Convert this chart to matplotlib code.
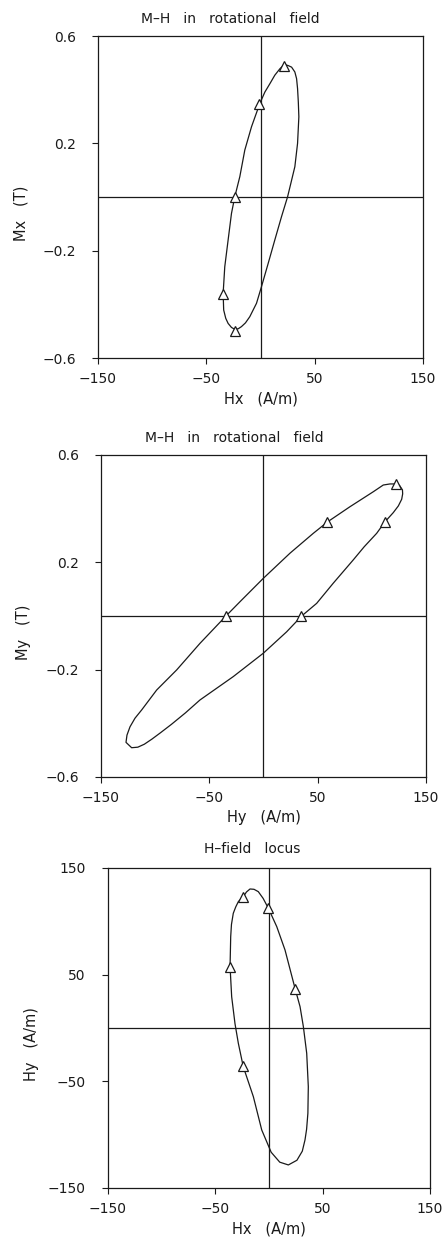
import numpy as np
import matplotlib
matplotlib.use("Agg")
import matplotlib.pyplot as plt

plt.rcParams["font.family"] = ["DejaVu Sans"]

# Mx-Hx loop (A/m, T), traced round the loop
hx_loop = [22.0, 25.5, 28.7, 31.7, 33.3, 34.2, 34.9, 35.4, 34.2, 31.7, 28.0, 25.0,
           19.4, 13.2, 7.1, 0.9, -3.7, -9.9, -13.9, -17.6, -20.6, -23.8, -26.8, -29.9,
           -32.1, -34.0, -34.5, -33.0, -29.9, -26.8, -23.8, -19.1, -14.5, -8.3, -0.6,
           4.0, 8.6, 13.2, 17.9, 22.0]
mx_loop = [0.494, 0.490, 0.484, 0.466, 0.441, 0.404, 0.354, 0.299, 0.200, 0.113,
           0.051, 0.001, -0.073, -0.160, -0.247, -0.334, -0.396, -0.446, -0.469,
           -0.483, -0.491, -0.493, -0.486, -0.471, -0.452, -0.421, -0.359, -0.260,
           -0.160, -0.061, 0.0, 0.076, 0.175, 0.262, 0.349, 0.391, 0.422, 0.454,
           0.478, 0.494]
hx_pts = [22, -1, -24, -35, -24]
mx_pts = [0.49, 0.345, 0.0, -0.36, -0.50]

# My-Hy loop
hy_loop = [121.4, 125.5, 128.3, 128.5, 127.6, 124.5, 119.8, 112.2, 104.5, 93.0, 82.9,
           64.4, 49.1, 35.3, 21.4, -0.2, -27.9, -58.6, -72.0, -85.0, -95.0, -103.0,
           -110.0, -116.0, -121.7, -126.9, -126.0, -123.2, -118.6, -112.4, -98.6, -80.1,
           -58.6, -34.6, -21.7, -0.2, 24.5, 46.0, 59.3, 79.8, 101.4, 110.6, 116.8, 121.4]
my_loop = [0.492, 0.487, 0.470, 0.455, 0.435, 0.410, 0.385, 0.351, 0.308, 0.258,
           0.209, 0.122, 0.047, 0.0, -0.059, -0.139, -0.226, -0.313, -0.361, -0.404,
           -0.435, -0.459, -0.478, -0.489, -0.491, -0.471, -0.444, -0.413, -0.381,
           -0.350, -0.276, -0.201, -0.102, 0.0, 0.053, 0.140, 0.234, 0.308, 0.351,
           0.407, 0.463, 0.488, 0.492, 0.492]
hy_pts = [122, 112, 59, 35, -35]
my_pts = [0.49, 0.35, 0.35, 0.0, 0.0]

# H-field locus (Hx, Hy)
locus_hx = [-24.0, -21.0, -17.7, -14.0, -10.0, -5.5, -0.6, 7.2, 14.9, 24.2, 28.9, 32.0,
            35.1, 36.6, 36.2, 35.0, 33.5, 31.0, 26.0, 18.0, 10.0, 2.0, -6.8, -14.6,
            -24.0, -28.6, -31.7, -34.8, -36.3, -35.7, -35.0, -33.3, -31.0, -28.6,
            -24.0]
locus_hy = [123.1, 127.5, 130.3, 130.0, 127.8, 121.5, 112.2, 95.0, 73.1, 37.2, 20.0,
            1.2, -23.7, -55.0, -80.0, -95.0, -105.0, -115.5, -124.0, -128.4, -125.8,
            -116.5, -95.6, -64.4, -36.3, -14.3, 4.0, 29.3, 57.5, 85.6, 97.0, 107.5,
            113.5, 118.4, 123.1]
locus_hx_pts = [-24, -1, 24, -24, -36]
locus_hy_pts = [123, 112, 37, -36, 57]

ink = "#1a1a1a"
mh_title = "M\u2013H   in   rotational   field"

panels = [
    dict(rect=[0.2188, 0.7108, 0.7254, 0.2601], x=hx_loop, y=mx_loop, px=hx_pts, py=mx_pts,
         ylim=(-0.6, 0.6), yticks=[-0.6, -0.2, 0.2, 0.6], ylabel="Mx   (T)",
         xlabel="Hx   (A/m)", title=mh_title, tx=0.406, ty=1.053),
    dict(rect=[0.2254, 0.3724, 0.7254, 0.2601], x=hy_loop, y=my_loop, px=hy_pts, py=my_pts,
         ylim=(-0.6, 0.6), yticks=[-0.6, -0.2, 0.2, 0.6], ylabel="My   (T)",
         xlabel="Hy   (A/m)", title=mh_title, tx=0.409, ty=1.053),
    dict(rect=[0.2411, 0.0404, 0.7188, 0.2585], x=locus_hx, y=locus_hy,
         px=locus_hx_pts, py=locus_hy_pts,
         ylim=(-150, 150), yticks=[-150, -50, 50, 150], ylabel="Hy   (A/m)",
         xlabel="Hx   (A/m)", title="H\u2013field   locus", tx=0.447, ty=1.059),
]

fig = plt.figure(figsize=(4.48, 12.38), dpi=100)

for p in panels:
    ax = fig.add_axes(p["rect"])
    ax.set_xlim(-150, 150)
    ax.set_ylim(*p["ylim"])
    xt = [-150, -50, 50, 150]
    ax.set_xticks(xt)
    ax.set_xticklabels([f"{t:g}".replace("-", "\u2212") for t in xt])
    ax.set_yticks(p["yticks"])
    ax.set_yticklabels([f"{t:g}".replace("-", "\u2212") for t in p["yticks"]])
    ax.tick_params(direction="out", length=4, width=0.8, labelsize=10, colors=ink)
    ax.tick_params(axis="x", pad=6)
    ax.tick_params(axis="y", pad=12)
    for s in ax.spines.values():
        s.set_linewidth(0.9)
        s.set_color(ink)

    # zero reference lines
    ax.axhline(0, color=ink, lw=0.9)
    ax.axvline(0, color=ink, lw=0.9)

    ax.plot(p["x"], p["y"], color=ink, lw=0.9)
    ax.plot(p["px"], p["py"], linestyle="none", marker="^", markersize=7,
            markerfacecolor="white", markeredgecolor=ink, markeredgewidth=0.9)

    ax.set_xlabel(p["xlabel"], fontsize=10.5, color=ink, labelpad=4)
    ax.set_ylabel(p["ylabel"], fontsize=10.5, color=ink)
    ax.yaxis.set_label_coords(-0.215, 0.45)
    ax.text(p["tx"], p["ty"], p["title"], transform=ax.transAxes,
            ha="center", va="center", fontsize=10, color=ink)

fig.savefig("out.png", dpi=100)
